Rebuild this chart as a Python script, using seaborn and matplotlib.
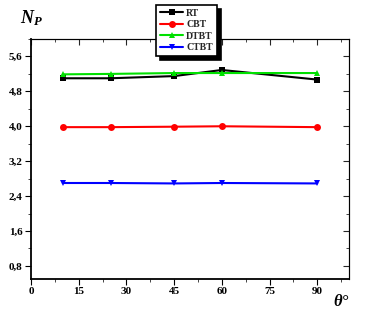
import matplotlib
matplotlib.use("Agg")
import matplotlib.pyplot as plt
import seaborn as sns
import pandas as pd
from matplotlib.ticker import MultipleLocator, FixedLocator

theta = [10, 25, 45, 60, 90]
rt = [5.10, 5.10, 5.15, 5.29, 5.07]
cbt = [3.98, 3.98, 3.99, 4.00, 3.98]
dtbt = [5.19, 5.20, 5.22, 5.22, 5.22]
ctbt = [2.70, 2.70, 2.69, 2.70, 2.69]
series_names = ["RT", "CBT", "DTBT", "CTBT"]
colors = ["black", "#ff0000", "#00e000", "#0000ff"]
markers = ["s", "o", "^", "v"]
yticks = [0.8, 1.6, 2.4, 3.2, 4.0, 4.8, 5.6]
xticks = [0, 15, 30, 45, 60, 75, 90]

rows = []
for name, vals in zip(series_names, [rt, cbt, dtbt, ctbt]):
    for t, v in zip(theta, vals):
        rows.append({"theta": t, "Np": v, "series": name})
df = pd.DataFrame(rows)

sns.set_style("ticks")
plt.rcParams["font.family"] = ["Liberation Serif", "DejaVu Serif"]
plt.rcParams["mathtext.fontset"] = "custom"
plt.rcParams["mathtext.it"] = "Liberation Serif:italic:bold"
plt.rcParams["mathtext.rm"] = "Liberation Serif:bold"

fig = plt.figure(figsize=(3.68, 3.2), dpi=100)
ax = fig.add_axes([31/368, 41/320, 318/368, 240/320])

sns.lineplot(data=df, x="theta", y="Np", hue="series", style="series",
             hue_order=series_names, style_order=series_names,
             palette=dict(zip(series_names, colors)),
             markers=dict(zip(series_names, markers)), dashes=False,
             markersize=5, linewidth=1.5, markeredgewidth=0, ax=ax, legend=True)

ax.set_xlim(0, 100)
ax.set_ylim(0.5, 6.0)
ax.xaxis.set_major_locator(FixedLocator(xticks))
ax.yaxis.set_major_locator(FixedLocator(yticks))
ax.xaxis.set_minor_locator(MultipleLocator(7.5))
ax.yaxis.set_minor_locator(MultipleLocator(0.4))
ax.set_xticklabels([str(t) for t in xticks], fontsize=8, fontweight="bold")
ax.set_yticklabels([f"{t:.1f}".replace(".", ",") for t in yticks], fontsize=8, fontweight="bold")
ax.set_xlabel("")
ax.set_ylabel("")
for s in ax.spines.values():
    s.set_visible(True)
    s.set_color("black")
ax.spines["left"].set_linewidth(1.3)
ax.spines["bottom"].set_linewidth(1.3)
ax.spines["top"].set_linewidth(0.8)
ax.spines["right"].set_linewidth(0.8)
ax.tick_params(which="major", direction="out", length=4, width=0.8, colors="black", pad=2)
ax.tick_params(which="minor", direction="out", length=2, width=0.6)

# mirrored inward ticks on top and right
axt = ax.secondary_xaxis("top")
axt.xaxis.set_major_locator(FixedLocator(xticks))
axt.xaxis.set_minor_locator(MultipleLocator(7.5))
axt.tick_params(which="major", direction="in", length=4, width=0.8, labeltop=False)
axt.tick_params(which="minor", direction="in", length=2, width=0.6)
axr = ax.secondary_yaxis("right")
axr.yaxis.set_major_locator(FixedLocator(yticks))
axr.yaxis.set_minor_locator(MultipleLocator(0.4))
axr.tick_params(which="major", direction="in", length=4, width=0.8, labelright=False)
axr.tick_params(which="minor", direction="in", length=2, width=0.6)

handles, labels = ax.get_legend_handles_labels()
leg = ax.legend(handles, labels, loc="upper left", bbox_to_anchor=(156/368, 315/320),
                bbox_transform=fig.transFigure, fontsize=7, frameon=True, fancybox=False,
                shadow={"ox": 3, "oy": -3, "facecolor": "black", "edgecolor": "black", "alpha": 1},
                handlelength=2.4, handletextpad=0.3, labelspacing=0.25, borderpad=0.4,
                borderaxespad=0)
leg.get_frame().set_edgecolor("black")
leg.get_frame().set_linewidth(1.2)
leg.get_frame().set_alpha(1)
for t in leg.get_texts():
    t.set_fontweight("bold")

fig.text(20/368, 1 - 18/320, r"$N_P$", fontsize=13,
         ha="left", va="center", color="black")
fig.text(333/368, 1 - 302/320, "θ°", fontsize=12, ha="left", va="center",
         fontstyle="italic", fontweight="bold", color="black")

fig.savefig("out.png", dpi=100)
